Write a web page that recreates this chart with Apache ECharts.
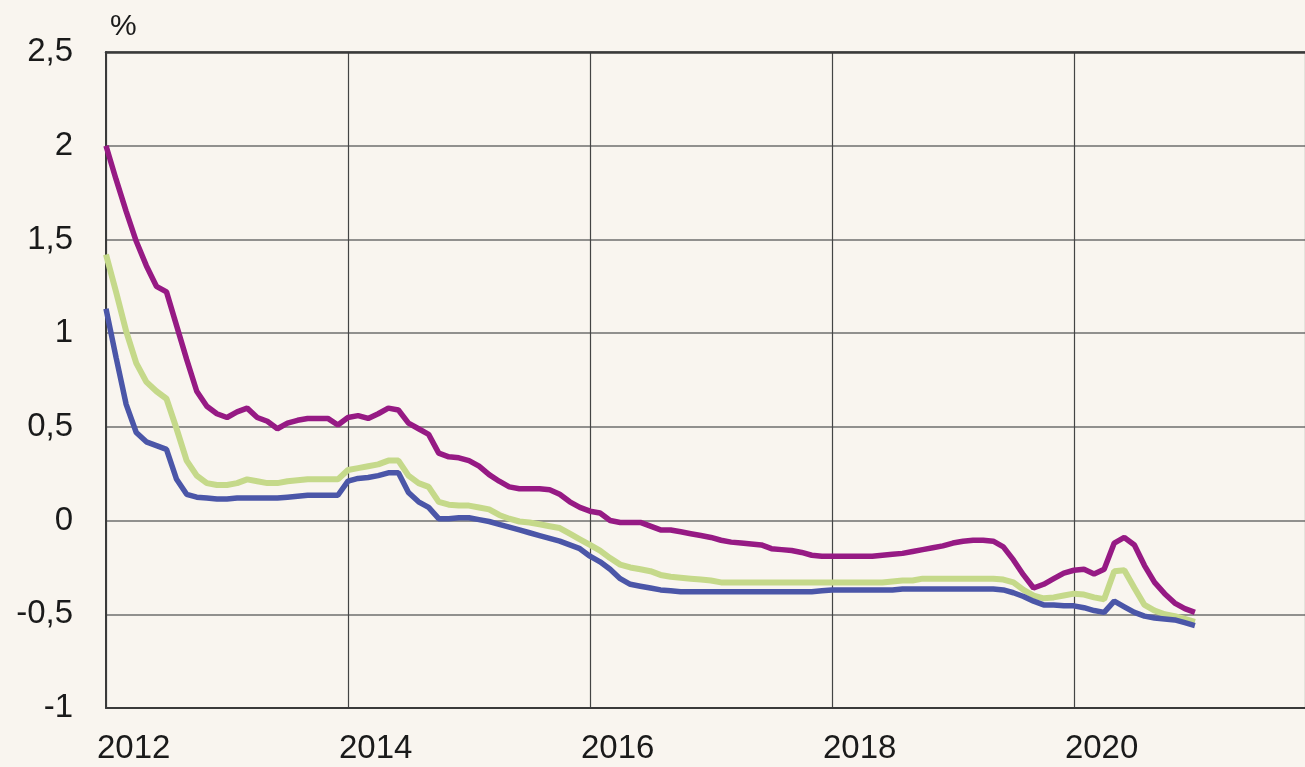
<!DOCTYPE html>
<html>
<head>
<meta charset="utf-8">
<script src="https://cdn.jsdelivr.net/npm/echarts@6/dist/echarts.min.js"></script>
<style>
html,body{margin:0;padding:0;background:#f9f5ef;}
#chart{width:1305px;height:767px;}
</style>
</head>
<body>
<div id="chart"></div>
<script>
// Monthly observations, January 2012 to January 2021
const startYear = 2012;
const yTicks = [-1, -0.5, 0, 0.5, 1, 1.5, 2, 2.5];
const xTicks = [2012, 2014, 2016, 2018, 2020];

const purpleSeries = [
  2.00, 1.82, 1.65, 1.49, 1.36, 1.25, 1.22, 1.04, 0.86, 0.69, 0.61, 0.57,
  0.55, 0.58, 0.60, 0.55, 0.53, 0.49, 0.52, 0.535, 0.545, 0.545, 0.545, 0.51,
  0.55, 0.56, 0.545, 0.57, 0.60, 0.59, 0.52, 0.49, 0.46, 0.36, 0.34, 0.335,
  0.32, 0.29, 0.245, 0.21, 0.18, 0.17, 0.17, 0.17, 0.165, 0.14, 0.10, 0.07,
  0.05, 0.04, 0.00, -0.01, -0.01, -0.01, -0.03, -0.05, -0.05, -0.06, -0.07, -0.08,
  -0.09, -0.105, -0.115, -0.12, -0.125, -0.13, -0.15, -0.155, -0.16, -0.17, -0.185, -0.19,
  -0.19, -0.19, -0.19, -0.19, -0.19, -0.185, -0.18, -0.175, -0.165, -0.155, -0.145, -0.135,
  -0.12, -0.11, -0.105, -0.105, -0.11, -0.14, -0.21, -0.29, -0.36, -0.34, -0.31, -0.28,
  -0.265, -0.26, -0.285, -0.26, -0.12, -0.09, -0.13, -0.24, -0.33, -0.39, -0.44, -0.47,
  -0.49
];
const greenSeries = [
  1.42, 1.22, 1.01, 0.84, 0.74, 0.69, 0.65, 0.49, 0.32, 0.24, 0.20, 0.19,
  0.19, 0.20, 0.22, 0.21, 0.20, 0.20, 0.21, 0.215, 0.22, 0.22, 0.22, 0.22,
  0.27, 0.28, 0.29, 0.30, 0.32, 0.32, 0.24, 0.20, 0.18, 0.10, 0.085, 0.08,
  0.08, 0.07, 0.06, 0.03, 0.01, -0.005, -0.01, -0.02, -0.03, -0.04, -0.07, -0.10,
  -0.13, -0.16, -0.20, -0.235, -0.25, -0.26, -0.27, -0.29, -0.30, -0.305, -0.31, -0.315,
  -0.32, -0.33, -0.33, -0.33, -0.33, -0.33, -0.33, -0.33, -0.33, -0.33, -0.33, -0.33,
  -0.33, -0.33, -0.33, -0.33, -0.33, -0.33, -0.325, -0.32, -0.32, -0.31, -0.31, -0.31,
  -0.31, -0.31, -0.31, -0.31, -0.31, -0.315, -0.33, -0.37, -0.40, -0.415, -0.41, -0.40,
  -0.39, -0.395, -0.41, -0.42, -0.27, -0.265, -0.36, -0.45, -0.48, -0.50, -0.51, -0.525,
  -0.54
];
const blueSeries = [
  1.13, 0.87, 0.62, 0.47, 0.42, 0.40, 0.38, 0.22, 0.14, 0.125, 0.12, 0.115,
  0.115, 0.12, 0.12, 0.12, 0.12, 0.12, 0.125, 0.13, 0.135, 0.135, 0.135, 0.135,
  0.21, 0.225, 0.23, 0.24, 0.255, 0.255, 0.15, 0.10, 0.07, 0.01, 0.01, 0.015,
  0.015, 0.005, -0.005, -0.02, -0.035, -0.05, -0.065, -0.08, -0.095, -0.11, -0.13, -0.15,
  -0.19, -0.22, -0.26, -0.31, -0.34, -0.35, -0.36, -0.37, -0.375, -0.38, -0.38, -0.38,
  -0.38, -0.38, -0.38, -0.38, -0.38, -0.38, -0.38, -0.38, -0.38, -0.38, -0.38, -0.375,
  -0.37, -0.37, -0.37, -0.37, -0.37, -0.37, -0.37, -0.365, -0.365, -0.365, -0.365, -0.365,
  -0.365, -0.365, -0.365, -0.365, -0.365, -0.37, -0.385, -0.405, -0.43, -0.45, -0.45, -0.455,
  -0.455, -0.465, -0.48, -0.49, -0.43, -0.46, -0.49, -0.51, -0.52, -0.525, -0.53, -0.545,
  -0.56
];

function toPairs(values) {
  return values.map((v, i) => [startYear + i / 12, v]);
}

const chart = echarts.init(document.getElementById('chart'), null, {renderer: 'canvas'});
const fontFamily = '"Liberation Sans", Arial, sans-serif';
const xMax = 2021.91; // the plot runs off the right edge of the picture

chart.setOption({
  backgroundColor: '#f9f5ef',
  animation: false,
  grid: {
    left: 106, top: 52, bottom: 59, right: 0,
    show: false
  },
  xAxis: [{
    type: 'value',
    min: 2012, max: xMax, interval: 2,
    axisLine: {show: true, onZero: false, lineStyle: {color: '#3a3a3a', width: 2}},
    axisTick: {show: false},
    splitLine: {show: true, lineStyle: {color: '#444', width: 1.2}},
    axisLabel: {
      show: true, color: '#1a1a1a', fontSize: 33, fontFamily: fontFamily,
      align: 'left', margin: 24, padding: [0, 0, 0, -9],
      showMaxLabel: false,
      formatter: v => String(Math.round(v))
    }
  }, {
    type: 'value', position: 'top',
    min: 2012, max: xMax,
    axisLine: {show: true, onZero: false, lineStyle: {color: '#3a3a3a', width: 2.5}},
    axisTick: {show: false}, axisLabel: {show: false}, splitLine: {show: false}
  }],
  yAxis: {
    type: 'value',
    min: -1, max: 2.5, interval: 0.5,
    name: '%',
    nameLocation: 'end',
    nameGap: 12,
    nameTextStyle: {color: '#1a1a1a', fontSize: 30, fontFamily: fontFamily, align: 'left', padding: [0, 0, -2, 4]},
    axisLine: {show: true, lineStyle: {color: '#3a3a3a', width: 2}},
    axisTick: {show: false},
    splitLine: {show: true, lineStyle: {color: '#6e6e6e', width: 1.5}},
    axisLabel: {
      color: '#1a1a1a', fontSize: 33, fontFamily: fontFamily, margin: 33,
      formatter: v => String(v).replace('.', ',')
    }
  },
  series: [
    {type: 'line', data: toPairs(greenSeries), showSymbol: false, smooth: false,
     lineStyle: {color: '#c5d98a', width: 6}, z: 3},
    {type: 'line', data: toPairs(blueSeries), showSymbol: false, smooth: false,
     lineStyle: {color: '#4b56a8', width: 5.5}, z: 4},
    {type: 'line', data: toPairs(purpleSeries), showSymbol: false, smooth: false,
     lineStyle: {color: '#961a84', width: 5.5}, z: 5}
  ]
});
</script>
</body>
</html>
